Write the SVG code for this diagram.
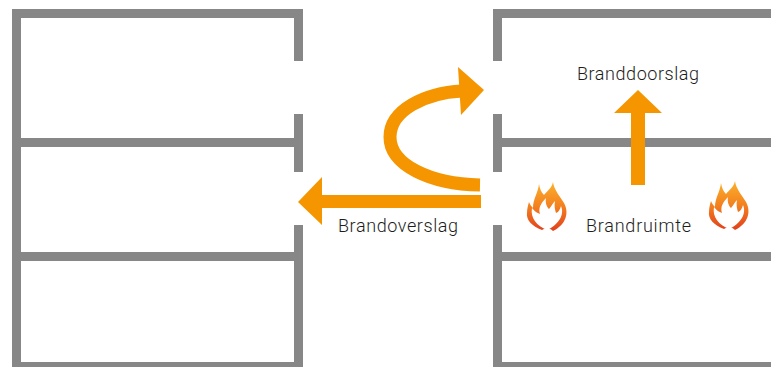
<svg xmlns="http://www.w3.org/2000/svg" width="771" height="367" viewBox="0 0 771 367">
<style>
.w{fill:#878787}
.a{fill:#f59500}
.t{font-family:"Roboto","Liberation Sans",sans-serif;font-size:18px;font-weight:300;fill:#1d1d1b}
</style>
<defs>
<linearGradient id="fg" x1="0" y1="0" x2="0" y2="1"><stop offset="0" stop-color="#fbb12c"/><stop offset=".5" stop-color="#f3801f"/><stop offset="1" stop-color="#e2401c"/></linearGradient>
<g id="flame"><path fill="url(#fg)" d="M12 2C13 7 14 10 17 13C20 9 25 6 26 0C27 8 33 14 37 21C42 30 40 42 26 49C24 47 22 46 20 46C18 46 17 47 15 48C5 44 -1 38 0 31C0 27 1 23 2 20C3 23 5 25 6 26C6 17 11 11 12 2Z"/><path fill="#fff" d="M20 48C10 44 3 36 5 26C8 30 11 31 13 32C11 26 14 21 19 16C18 21 20 25 22 27C24 25 25 22 28 19C27 24 28 28 29 31C32 30 33 27 34 24C38 33 31 43 20 48Z"/></g>
</defs>
<g id="building-left">
<path class="w" d="M12 9H303V61H294V18H21V138H294V114H303V172H294V147H21V252H294V225H303V367H12ZM21 261V362H294V261Z" fill-rule="evenodd"/>
</g>
<g id="building-right">
<path class="w" d="M771 9V18H502V61H493V9ZM493 114H502V138H771V147H502V172H493ZM493 225H502V252H771V261H502V362H771V367H493Z"/>
</g>
<g id="connectors">
<path class="a" d="M645 185H631V113H614L638 90L662 113H645Z"/>
<path class="a" d="M481 195V208H322V225L298 202L322 177V195Z"/>
<path d="M480 185C430 184 390 165 390 137C390 110 425 93 462 91" fill="none" stroke="#f59500" stroke-width="13"/>
<path class="a" d="M458 67L484 90L461 115Z"/>
</g>
<g id="flame-1"><use href="#flame" transform="translate(527 182)"/></g>
<g id="flame-2"><use href="#flame" transform="translate(709 181)"/></g>
<g id="labels">
<text class="t" x="338" y="232" textLength="120">Brandoverslag</text>
<text class="t" x="577" y="80" textLength="122">Branddoorslag</text>
<text class="t" x="586" y="232" textLength="105">Brandruimte</text>
</g>
</svg>
